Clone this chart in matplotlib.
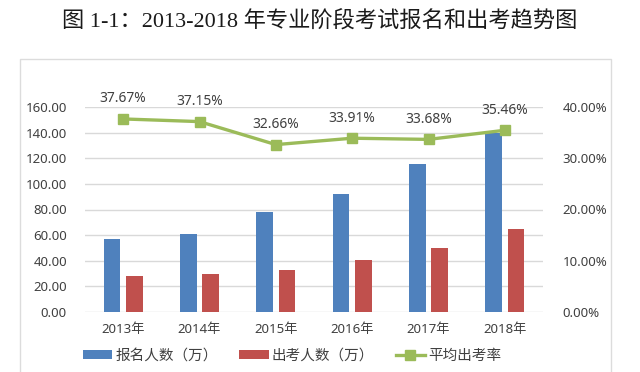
import matplotlib
matplotlib.use("Agg")
import matplotlib.pyplot as plt
import numpy as np
from matplotlib.patches import Rectangle
from matplotlib.ticker import FuncFormatter

years = ["2013年", "2014年", "2015年", "2016年", "2017年", "2018年"]
registered = [56.7, 60.9, 77.9, 92.4, 115.9, 139.6]
attended = [28.1, 29.7, 32.8, 40.6, 50.2, 64.5]
rate = [0.3767, 0.3715, 0.3266, 0.3391, 0.3368, 0.3546]
rate_labels = ["37.67%", "37.15%", "32.66%", "33.91%", "33.68%", "35.46%"]

BLUE = "#4F81BD"
RED = "#C0504D"
GREEN = "#9BBB59"
TXT = "#404040"
GRID = "#D9D9D9"

fig = plt.figure(figsize=(6.4, 3.72), dpi=100)
fig.patch.set_facecolor("white")

# frame
fig.patches.append(Rectangle((20/640, -0.05), (611-20)/640, (372-59)/372 + 0.05,
                             transform=fig.transFigure, fill=False,
                             edgecolor="#DCDCDC", lw=1.0, clip_on=False))

ax = fig.add_axes([85/640, (372-312)/372, (543-85)/640, (312-107)/372])
x = np.arange(len(years))
w = 0.22
off = 0.145
ax.bar(x - off, registered, w, color=BLUE, label="报名人数（万）", zorder=3)
ax.bar(x + off, attended, w, color=RED, label="出考人数（万）", zorder=3)
ax.set_xlim(-0.5, len(years) - 0.5)
ax.set_ylim(0, 160)
ax.set_yticks(np.arange(0, 161, 20))
ax.yaxis.set_major_formatter(FuncFormatter(lambda v, p: f"{v:.2f}"))
ax.grid(axis="y", color=GRID, lw=1.0, zorder=0)
ax.set_axisbelow(True)
for s in ax.spines.values():
    s.set_visible(False)
ax.tick_params(length=0)
ax.tick_params(axis="y", pad=13, labelsize=9.5, labelcolor=TXT)
ax.tick_params(axis="x", pad=8, labelsize=9.5, labelcolor=TXT)
ax.set_xticks(x)
ax.set_xticklabels(years)
for t in ax.get_xticklabels() + ax.get_yticklabels():
    t.set_fontfamily(["Noto Sans", "Noto Sans CJK SC"])

ax2 = ax.twinx()
ax2.set_ylim(0, 0.4)
ax2.set_yticks(np.arange(0, 0.41, 0.1))
ax2.yaxis.set_major_formatter(FuncFormatter(lambda v, p: f"{v*100:.2f}%"))
for s in ax2.spines.values():
    s.set_visible(False)
ax2.tick_params(length=0, pad=14, labelsize=9.5, labelcolor=TXT)
for t in ax2.get_yticklabels():
    t.set_fontfamily(["Noto Sans"])
ax2.plot(x, rate, color=GREEN, lw=2.4, marker="s", markersize=7,
         label="平均出考率", zorder=4, clip_on=False)
for xi, r, lab in zip(x, rate, rate_labels):
    ax2.annotate(lab, (xi, r), xytext=(0, 14.5), textcoords="offset points",
                 ha="center", va="center", fontsize=10, color=TXT,
                 family=["Noto Sans"])

h1, l1 = ax.get_legend_handles_labels()
h2, l2 = ax2.get_legend_handles_labels()
leg = fig.legend(h1 + h2, l1 + l2, loc="center", bbox_to_anchor=(292/640, 1-356/372),
                 ncol=3, frameon=False, handlelength=2.0, handleheight=0.55,
                 handletextpad=0.2, columnspacing=1.5,
                 prop={"family": ["Noto Sans CJK SC"], "size": 10.5})
for t in leg.get_texts():
    t.set_color(TXT)

fig.text(320/640, 1-22/372, "图 1-1：2013-2018 年专业阶段考试报名和出考趋势图",
         ha="center", va="center", fontsize=16, color="#1a1a1a",
         family=["Liberation Serif", "Noto Sans CJK SC"], weight="medium")

fig.savefig("out.png", dpi=100, facecolor="white")
